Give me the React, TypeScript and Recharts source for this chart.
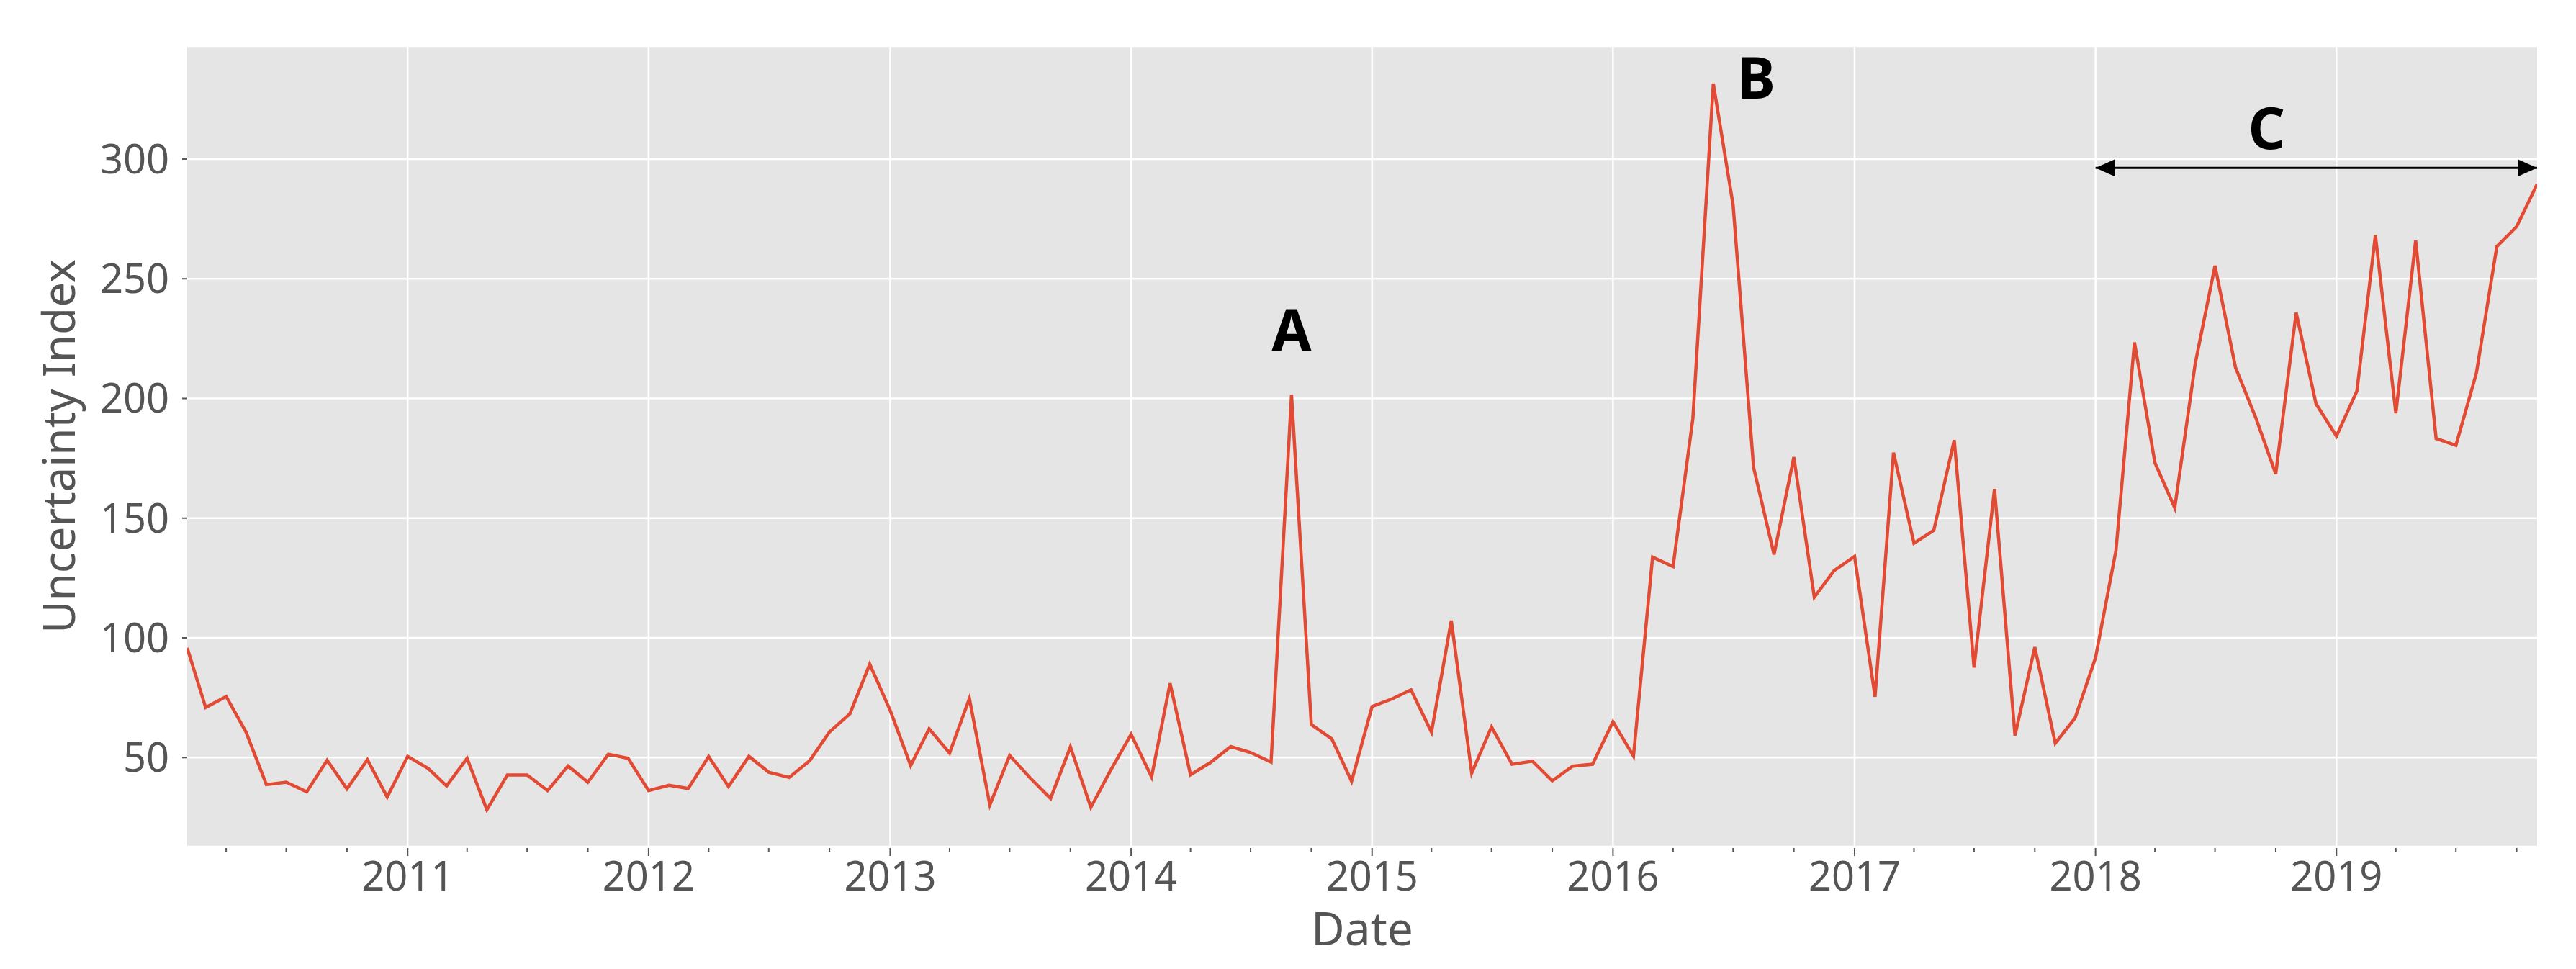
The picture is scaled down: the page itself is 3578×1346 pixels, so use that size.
import React from 'react';
import { LineChart, Line, XAxis, YAxis, CartesianGrid, ReferenceLine, ReferenceDot, Label } from 'recharts';

// monthly index, Feb 2010 .. Nov 2019
const START_YEAR = 2010;
const START_MONTH = 2;

const u2010 = [95.8, 70.9, 75.5, 60.7, 38.7, 39.7, 35.7, 48.9, 36.9, 49.1, 33.5];
const u2011 = [50.5, 45.5, 38.2, 49.7, 28.2, 42.7, 42.7, 36.2, 46.5, 39.7, 51.4, 49.7];
const u2012 = [36.2, 38.4, 37.1, 50.4, 37.9, 50.5, 43.9, 41.7, 48.7, 60.7, 68.3, 89.0];
const u2013 = [69.7, 46.7, 62.0, 51.9, 74.7, 30.2, 50.9, 41.5, 32.9, 54.5, 29.2, 44.7];
const u2014 = [59.7, 41.9, 81.0, 42.8, 47.9, 54.6, 52.1, 48.1, 201.5, 63.8, 57.8, 40.1];
const u2015 = [71.3, 74.6, 78.3, 60.6, 107.2, 43.6, 62.8, 47.2, 48.5, 40.3, 46.4, 47.2];
const u2016 = [65.0, 50.6, 133.7, 129.8, 191.6, 331.5, 280.7, 171.2, 134.8, 175.5, 117.0, 128.1];
const u2017 = [134.0, 75.4, 177.4, 139.5, 144.9, 182.6, 87.6, 162.2, 59.2, 96.1, 56.0, 66.5];
const u2018 = [91.7, 136.6, 223.4, 173.1, 154.3, 214.5, 255.4, 213.0, 191.8, 168.5, 235.8, 197.8];
const u2019 = [184.3, 203.1, 268.2, 193.8, 265.9, 183.3, 180.4, 210.6, 263.5, 271.8, 289.5];

const yearLabels = [2011, 2012, 2013, 2014, 2015, 2016, 2017, 2018, 2019];
const yTicks = [50, 100, 150, 200, 250, 300];

// annotations: [label, year, month, day, value]
const notes: [string, number, number, number, number][] = [
  ['A', 2014, 9, 1, 219.7],
  ['B', 2016, 8, 5, 325.3],
  ['C', 2018, 9, 17, 304.2],
];
const arrowY = 296.3;

const series = [...u2010, ...u2011, ...u2012, ...u2013, ...u2014, ...u2015, ...u2016, ...u2017, ...u2018, ...u2019];
const data = series.map((v, i) => ({ t: Date.UTC(START_YEAR, START_MONTH - 1 + i, 1), value: v }));
const tMin = data[0].t;
const tMax = data[data.length - 1].t;

const yearTicks = yearLabels.map((y) => Date.UTC(y, 0, 1));
const quarterTicks: number[] = [];
for (let y = START_YEAR; y <= 2019; y++) {
  for (const m of [0, 3, 6, 9]) {
    const t = Date.UTC(y, m, 1);
    if (t >= tMin && t <= tMax) quarterTicks.push(t);
  }
}

const FONT = '"Noto Sans", sans-serif';
const GREY = '#555555';

const XTick = ({ x, y, payload }: any) => {
  const d = new Date(payload.value);
  const major = d.getUTCMonth() === 0;
  return (
    <g>
      <line x1={x} x2={x} y1={y + 2} y2={y + (major ? 13 : 7)} stroke={GREY} strokeWidth={2} />
      {major && (
        <text x={x} y={y + 61} textAnchor="middle" fontSize={56} fontFamily={FONT} fill={GREY}>
          {d.getUTCFullYear()}
        </text>
      )}
    </g>
  );
};

const letterShape = (txt: string) => (p: any) => (
  <text x={p.cx} y={p.cy} textAnchor="middle" fontSize={80} fontWeight="bold" fontFamily={FONT} fill="#000">
    {txt}
  </text>
);

const headLeft = (p: any) => (
  <polygon points={`${p.cx},${p.cy} ${p.cx + 27},${p.cy - 12} ${p.cx + 27},${p.cy + 12}`} fill="#000" />
);
const headRight = (p: any) => (
  <polygon points={`${p.cx},${p.cy} ${p.cx - 27},${p.cy - 12} ${p.cx - 27},${p.cy + 12}`} fill="#000" />
);

export default function App() {
  const arrowStart = Date.UTC(2018, 0, 1);
  return (
    <div style={{ position: 'absolute', left: 0, top: 0, background: '#fff' }}>
      <LineChart width={3578} height={1346} data={data} margin={{ top: 64, right: 54, bottom: 0, left: 0 }}>
        <CartesianGrid fill="#E5E5E5" fillOpacity={1} stroke="#ffffff" strokeWidth={2.5} verticalValues={yearTicks} />
        <XAxis
          dataKey="t"
          type="number"
          domain={[tMin, tMax]}
          ticks={quarterTicks}
          interval={0}
          height={170}
          axisLine={false}
          tickLine={false}
          tickSize={0}
          tickMargin={0}
          tick={<XTick />}
          allowDataOverflow
        >
          <Label
            content={() => (
              <text x={1892} y={1313} textAnchor="middle" fontSize={64} fontFamily={FONT} fill={GREY}>
                Date
              </text>
            )}
          />
        </XAxis>
        <YAxis
          type="number"
          domain={[12.8, 347.2]}
          ticks={yTicks}
          width={260}
          axisLine={false}
          tickSize={7}
          tickMargin={18}
          tickLine={{ stroke: GREY, strokeWidth: 2 }}
          tick={{ fill: GREY, fontSize: 56, fontFamily: FONT }}
          allowDataOverflow
        >
          <Label
            content={() => (
              <text x={104} y={620} transform="rotate(-90 104 620)" textAnchor="middle" fontSize={62} fontFamily={FONT} fill={GREY}>
                Uncertainty Index
              </text>
            )}
          />
        </YAxis>
        <Line type="linear" dataKey="value" stroke="#E24A33" strokeWidth={4.5} dot={false} isAnimationActive={false} />
        <ReferenceLine
          segment={[{ x: arrowStart, y: arrowY }, { x: tMax, y: arrowY }]}
          stroke="#000"
          strokeWidth={3}
          ifOverflow="visible"
        />
        <ReferenceDot x={arrowStart} y={arrowY} r={0} shape={headLeft} ifOverflow="visible" />
        <ReferenceDot x={tMax} y={arrowY} r={0} shape={headRight} ifOverflow="visible" />
        {notes.map(([txt, y, m, d, v]) => (
          <ReferenceDot key={txt} x={Date.UTC(y, m - 1, d)} y={v} r={0} shape={letterShape(txt)} ifOverflow="visible" />
        ))}
      </LineChart>
    </div>
  );
}
